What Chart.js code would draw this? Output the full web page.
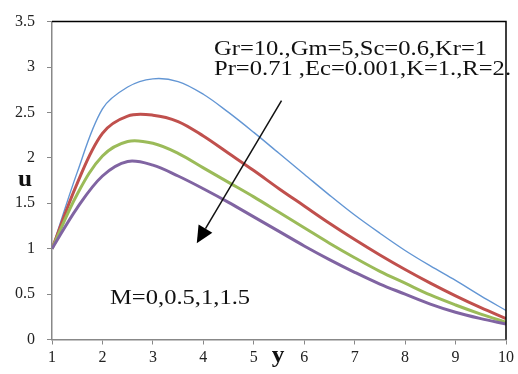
<!DOCTYPE html>
<html><head><meta charset="utf-8">
<script src="https://cdn.jsdelivr.net/npm/chart.js@4"></script>
<style>html,body{margin:0;padding:0;background:#fff;overflow:hidden}canvas{display:block}</style>
</head><body>
<canvas id="c" width="518" height="374"></canvas>
<script>
// ---- data ----
const yValues = [1,1.5,2,2.5,3,3.5,4,4.5,5,5.5,6,6.5,7,7.5,8,8.5,9,9.5,10];
const uM0   = [1.00,1.84,2.54,2.78,2.87,2.84,2.70,2.50,2.28,2.05,1.82,1.59,1.37,1.17,0.98,0.81,0.65,0.48,0.32];
const uM05  = [1.00,1.72,2.27,2.46,2.47,2.40,2.24,2.05,1.86,1.66,1.47,1.28,1.10,0.93,0.77,0.62,0.48,0.35,0.23];
const uM1   = [1.00,1.60,2.02,2.18,2.16,2.05,1.89,1.73,1.57,1.40,1.23,1.06,0.90,0.75,0.62,0.49,0.38,0.28,0.19];
const uM15  = [1.00,1.45,1.80,1.96,1.92,1.80,1.66,1.51,1.35,1.19,1.03,0.88,0.74,0.61,0.50,0.39,0.30,0.23,0.17];
const xTicks = [1,2,3,4,5,6,7,8,9,10];
const uTicks = [0,0.5,1,1.5,2,2.5,3,3.5];
const paramLines = ['Gr=10.,Gm=5,Sc=0.6,Kr=1', 'Pr=0.71 ,Ec=0.001,K=1.,R=2.'];
const mLabel = 'M=0,0.5,1,1.5';
const arrowFrom = [5.55, 2.63];
const arrowTo = [3.87, 1.06];

const pts = arr => yValues.map((y, i) => ({x: y, y: arr[i]}));

const serif = '"Liberation Serif", "Times New Roman", serif';

function wideText(ctx, txt, x, y, sx) {
  ctx.save();
  ctx.translate(x, y);
  ctx.scale(sx, 1);
  ctx.fillText(txt, 0, 0);
  ctx.restore();
}

const decor = {
  id: 'decor',
  afterDatasetsDraw(chart) {
    const {ctx, chartArea: a, scales: {x, y}} = chart;
    ctx.save();
    // top & right frame
    ctx.strokeStyle = '#000';
    ctx.lineWidth = 1.5;
    ctx.beginPath();
    ctx.moveTo(a.left, a.top); ctx.lineTo(a.right, a.top); ctx.lineTo(a.right, a.bottom);
    ctx.stroke();
    // arrow
    const x1 = x.getPixelForValue(arrowFrom[0]), y1 = y.getPixelForValue(arrowFrom[1]);
    const x2 = x.getPixelForValue(arrowTo[0]), y2 = y.getPixelForValue(arrowTo[1]);
    const ang = Math.atan2(y2 - y1, x2 - x1);
    const hl = 17, hw = 8;
    const bx = x2 - hl * Math.cos(ang), by = y2 - hl * Math.sin(ang);
    ctx.strokeStyle = '#111';
    ctx.lineWidth = 1.5;
    ctx.beginPath(); ctx.moveTo(x1, y1); ctx.lineTo(bx, by); ctx.stroke();
    ctx.fillStyle = '#000';
    ctx.beginPath();
    ctx.moveTo(x2, y2);
    ctx.lineTo(bx + hw * Math.sin(ang), by - hw * Math.cos(ang));
    ctx.lineTo(bx - hw * Math.sin(ang), by + hw * Math.cos(ang));
    ctx.closePath(); ctx.fill();
    // texts
    ctx.fillStyle = '#111';
    ctx.textBaseline = 'alphabetic';
    ctx.textAlign = 'left';
    ctx.font = '21px ' + serif;
    wideText(ctx, paramLines[0], 214, 54.5, 1.17);
    wideText(ctx, paramLines[1], 214, 74.5, 1.17);
    wideText(ctx, mLabel, 110, 304, 1.17);
    // axis titles
    ctx.font = 'bold 23px ' + serif;
    ctx.textAlign = 'center';
    wideText(ctx, 'u', 25, 186, 1.1);
    wideText(ctx, 'y', 278, 362, 1.1);
    ctx.restore();
  }
};

const mk = (data, color, w, order) => ({
  data: pts(data), borderColor: color, borderWidth: w, pointRadius: 0,
  tension: 0.35, fill: false, order
});

new Chart(document.getElementById('c'), {
  type: 'line',
  data: {
    datasets: [
      mk(uM0, '#6396D4', 1.4, 4),
      mk(uM05, '#C0504D', 3, 3),
      mk(uM1, '#9BBB59', 3, 2),
      mk(uM15, '#8064A2', 3, 1)
    ]
  },
  options: {
    responsive: false,
    animation: false,
    layout: {padding: {left: 0, right: 11, top: 17, bottom: 0}},
    plugins: {legend: {display: false}, tooltip: {enabled: false}},
    scales: {
      x: {
        type: 'linear', min: 1, max: 10,
        afterBuildTicks: s => { s.ticks = xTicks.map(v => ({value: v})); },
        afterFit: s => { s.height = 34.5; },
        grid: {drawOnChartArea: false, drawTicks: true, tickLength: 5, color: '#888', lineWidth: 1},
        border: {color: '#888', width: 1.5},
        ticks: {color: '#222', font: {family: serif, size: 16}, padding: 4, maxRotation: 0,
                callback: v => String(v)}
      },
      y: {
        min: 0, max: 3.5,
        afterBuildTicks: s => { s.ticks = uTicks.map(v => ({value: v})); },
        afterFit: s => { s.width = 52; },
        grid: {drawOnChartArea: false, drawTicks: true, tickLength: 5, color: '#888', lineWidth: 1},
        border: {color: '#888', width: 1.5},
        ticks: {color: '#222', font: {family: serif, size: 16}, padding: 12,
                callback: v => String(v)}
      }
    }
  },
  plugins: [decor]
});
</script>
</body></html>
